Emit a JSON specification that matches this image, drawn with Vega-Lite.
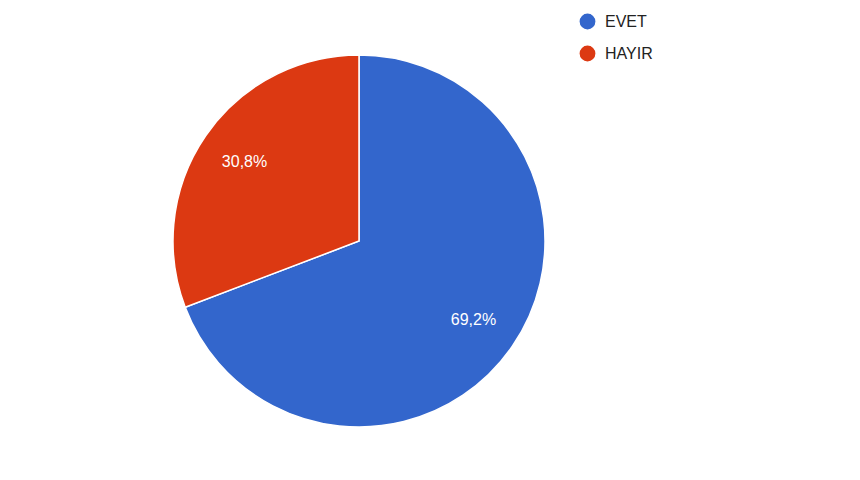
{
  "$schema": "https://vega.github.io/schema/vega-lite/v6.json",
  "width": 718,
  "height": 482,
  "padding": 0,
  "autosize": "none",
  "background": "white",
  "data": {
    "values": [
      {"answer": "EVET", "value": 69.2, "label": "69,2%"},
      {"answer": "HAYIR", "value": 30.8, "label": "30,8%"}
    ]
  },
  "encoding": {
    "theta": {"field": "value", "type": "quantitative", "stack": true},
    "order": {"field": "answer", "type": "nominal"},
    "color": {
      "field": "answer",
      "type": "nominal",
      "scale": {"domain": ["EVET", "HAYIR"], "range": ["#3366CC", "#DC3912"]},
      "legend": {
        "title": null,
        "orient": "none",
        "legendX": 578,
        "legendY": 12,
        "symbolType": "circle",
        "symbolSize": 300,
        "labelFont": "Liberation Sans",
        "labelFontSize": 16,
        "labelColor": "#222222",
        "rowPadding": 7,
        "labelOffset": 8
      }
    }
  },
  "layer": [
    {
      "mark": {"type": "arc", "outerRadius": 186, "stroke": "white", "strokeWidth": 1.5}
    },
    {
      "mark": {"type": "text", "radius": 139, "font": "Liberation Sans", "fontSize": 16, "fill": "white"},
      "encoding": {
        "text": {"field": "label", "type": "nominal"},
        "color": {"value": "white"}
      }
    }
  ],
  "config": {"view": {"stroke": null}}
}
